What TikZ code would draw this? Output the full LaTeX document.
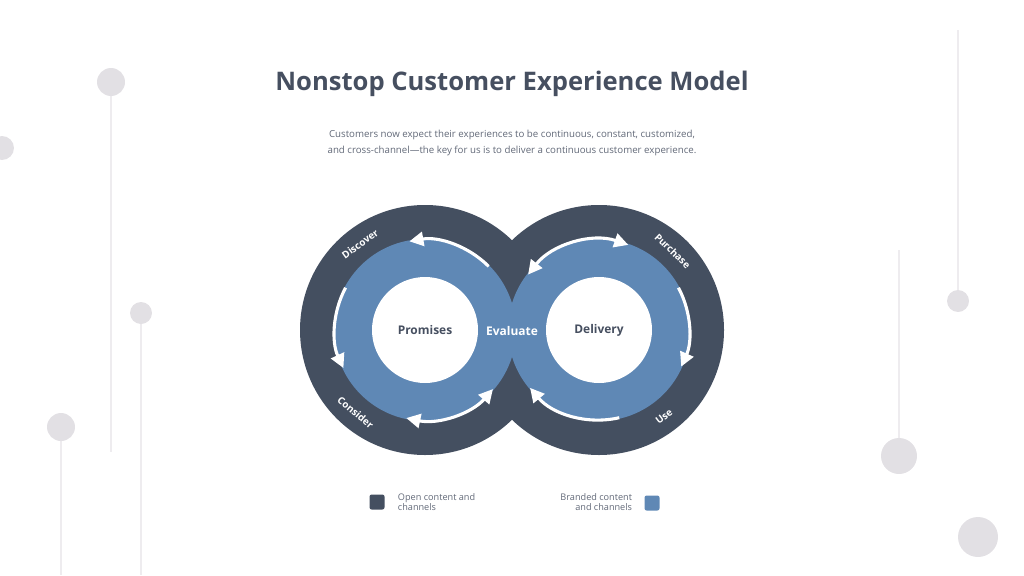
\documentclass[tikz,border=0pt]{standalone}
\usepackage{fontspec}
\setmainfont{Open Sans}
\usetikzlibrary{arrows.meta}
\definecolor{dk}{HTML}{444F60}
\definecolor{bl}{HTML}{5F88B5}
\definecolor{deco}{HTML}{E2E0E4}
\definecolor{txt}{HTML}{464F60}
\begin{document}
\begin{tikzpicture}[x=0.025cm,y=0.025cm,
  warc/.style={white,line width=2.2pt},
  tip/.style={-{Triangle[length=10pt,width=10pt]}},
  tips/.style={{Triangle[length=10pt,width=10pt]}-{Triangle[length=10pt,width=10pt]}},
  stage/.style={white,font=\bfseries\fontsize{7}{8}\selectfont},
  deco line/.style={draw=deco!60,line width=1.4pt},
  deco dot/.style={fill=deco}]
\useasboundingbox (0,0) rectangle (1024,575);
% decoration
\draw[deco line] (111,493) -- (111,123);
\fill[deco dot] (111,493) circle (14);
\fill[deco dot] (2,427) circle (12);
\draw[deco line] (141,262) -- (141,0);
\fill[deco dot] (141,262) circle (11);
\draw[deco line] (61,148) -- (61,0);
\fill[deco dot] (61,148) circle (14);
\draw[deco line] (958,545) -- (958,274);
\fill[deco dot] (958,274) circle (11);
\draw[deco line] (899,325) -- (899,119);
\fill[deco dot] (899,119) circle (18);
\fill[deco dot] (978,38) circle (20);
% title
\node[text=txt,font=\bfseries\fontsize{18.2}{22}\selectfont] (title) at (512,491) {Nonstop Customer Experience Model};
\node[text=txt!85,font=\fontsize{6.9}{11}\selectfont,align=center] (sub) at (512,432) {Customers now expect their experiences to be continuous, constant, customized,\\and cross-channel---the key for us is to deliver a continuous customer experience.};
% loops
\coordinate (L) at (425,245);
\coordinate (R) at (599,245);
\fill[dk] (L) circle (125);
\fill[dk] (R) circle (125);
\fill[bl] (L) circle (91);
\fill[bl] (R) circle (91);
\node[circle,fill=white,minimum size=106*0.025cm,inner sep=0,text=txt,font=\bfseries\fontsize{8.5}{10}\selectfont] (prom) at (L) {Promises};
\node[circle,fill=white,minimum size=106*0.025cm,inner sep=0,text=txt,font=\bfseries\fontsize{8.5}{10}\selectfont] (deliv) at (R) {Delivery};
\node[white,font=\bfseries\fontsize{8.5}{10}\selectfont] (eval) at (512,244) {Evaluate};
% arcs
\draw[warc,tip] ([shift={(45:90)}]L) arc (45:100:90);
\draw[warc,tip] ([shift={(152:90)}]L) arc (152:205:90);
\draw[warc,tips] ([shift={(258:90)}]L) arc (258:319:90);
\draw[warc,tips] ([shift={(142:90)}]R) arc (142:71:90);
\draw[warc,tip] ([shift={(28:90)}]R) arc (28:-24:90);
\draw[warc,tip] ([shift={(283:90)}]R) arc (283:220:90);
% stage labels
\node[stage,rotate=36] (disc) at ([shift={(127:108)}]L) {Discover};
\node[stage,rotate=-44] (purch) at ([shift={(47:108)}]R) {Purchase};
\node[stage,rotate=-40] (cons) at ([shift={(230:108)}]L) {Consider};
\node[stage,rotate=37] (use) at ([shift={(307:108)}]R) {Use};
% legend
\node[fill=dk,rounded corners=1.5pt,minimum size=15*0.025cm,inner sep=0] (k1) at (377,73) {};
\node[fill=bl,rounded corners=1.5pt,minimum size=15*0.025cm,inner sep=0] (k2) at (652,72) {};
\node[anchor=west,align=left,text=txt!85,font=\fontsize{6.5}{7.5}\selectfont] (l1) at (393,73) {Open content and\\channels};
\node[anchor=east,align=right,text=txt!85,font=\fontsize{6.5}{7.5}\selectfont] (l2) at (637,73) {Branded content\\and channels};
\end{tikzpicture}
\end{document}
